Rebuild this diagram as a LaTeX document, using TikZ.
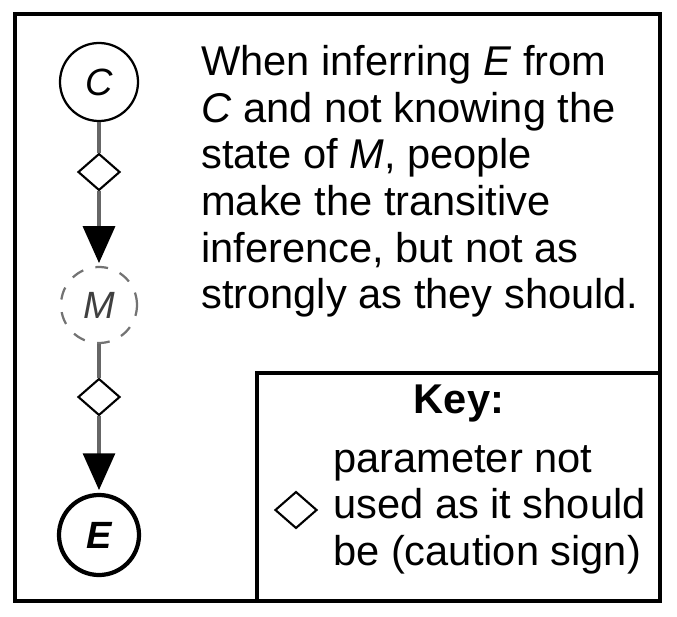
\documentclass[tikz,border=0pt]{standalone}
\usepackage{fontspec}
\setmainfont{Liberation Sans}
\usetikzlibrary{shapes.geometric,arrows.meta}

\begin{document}
\begin{tikzpicture}[x=0.025cm,y=-0.025cm,
  var/.style={circle,draw,line width=1.6pt,minimum size=1.95cm,inner sep=0pt,font=\fontsize{27}{30}\selectfont\itshape},
  caution/.style={diamond,draw,line width=1.5pt,minimum width=1.05cm,minimum height=0.92cm,inner sep=0pt},
  link/.style={draw=black!60,line width=2.2pt},
  tip/.style={-{Triangle[width=0.8cm,length=0.92cm,color=black,fill=black]},shorten >=2pt},
  body/.style={font=\fontsize{29.6}{33.2}\selectfont,align=left,inner sep=0pt}]
\useasboundingbox (0,0) rectangle (677,617);
% frame and key box
\draw[line width=3pt] (15,14) rectangle (660,601);
\draw[line width=2.5pt] (257,373) rectangle (660,601);

% chain C -> M -> E
\node[var] (C) at (99,82) {C};
\node[caution] (d1) at (99,172) {};
\node[var,draw=black!55,text=black!75,minimum size=1.9cm,dash pattern=on 9pt off 9pt] (M) at (99,305) {M};
\node[caution] (d2) at (99,397) {};
\node[var,line width=3pt,minimum size=2cm,font=\fontsize{27}{30}\selectfont\bfseries\itshape] (E) at (99,535) {E};
\draw[link] (C) -- (d1);
\draw[link,tip] (d1) -- (M);
\draw[link] (M) -- (d2);
\draw[link,tip] (d2) -- (E);

\node[body,anchor=north west] (note) at (201,45) {When inferring \textit{E} from\\\textit{C} and not knowing the\\state of \textit{M}, people\\make the transitive\\inference, but not as\\strongly as they should.};

% key
\node[font=\fontsize{29.6}{33}\selectfont\bfseries,anchor=base] (keyhead) at (459,413) {Key:};
\node[caution] (kd) at (296,510) {};
\node[body,anchor=north west] (keytext) at (333,445) {parameter not\\used as it should\\be (caution sign)};
\end{tikzpicture}
\end{document}
